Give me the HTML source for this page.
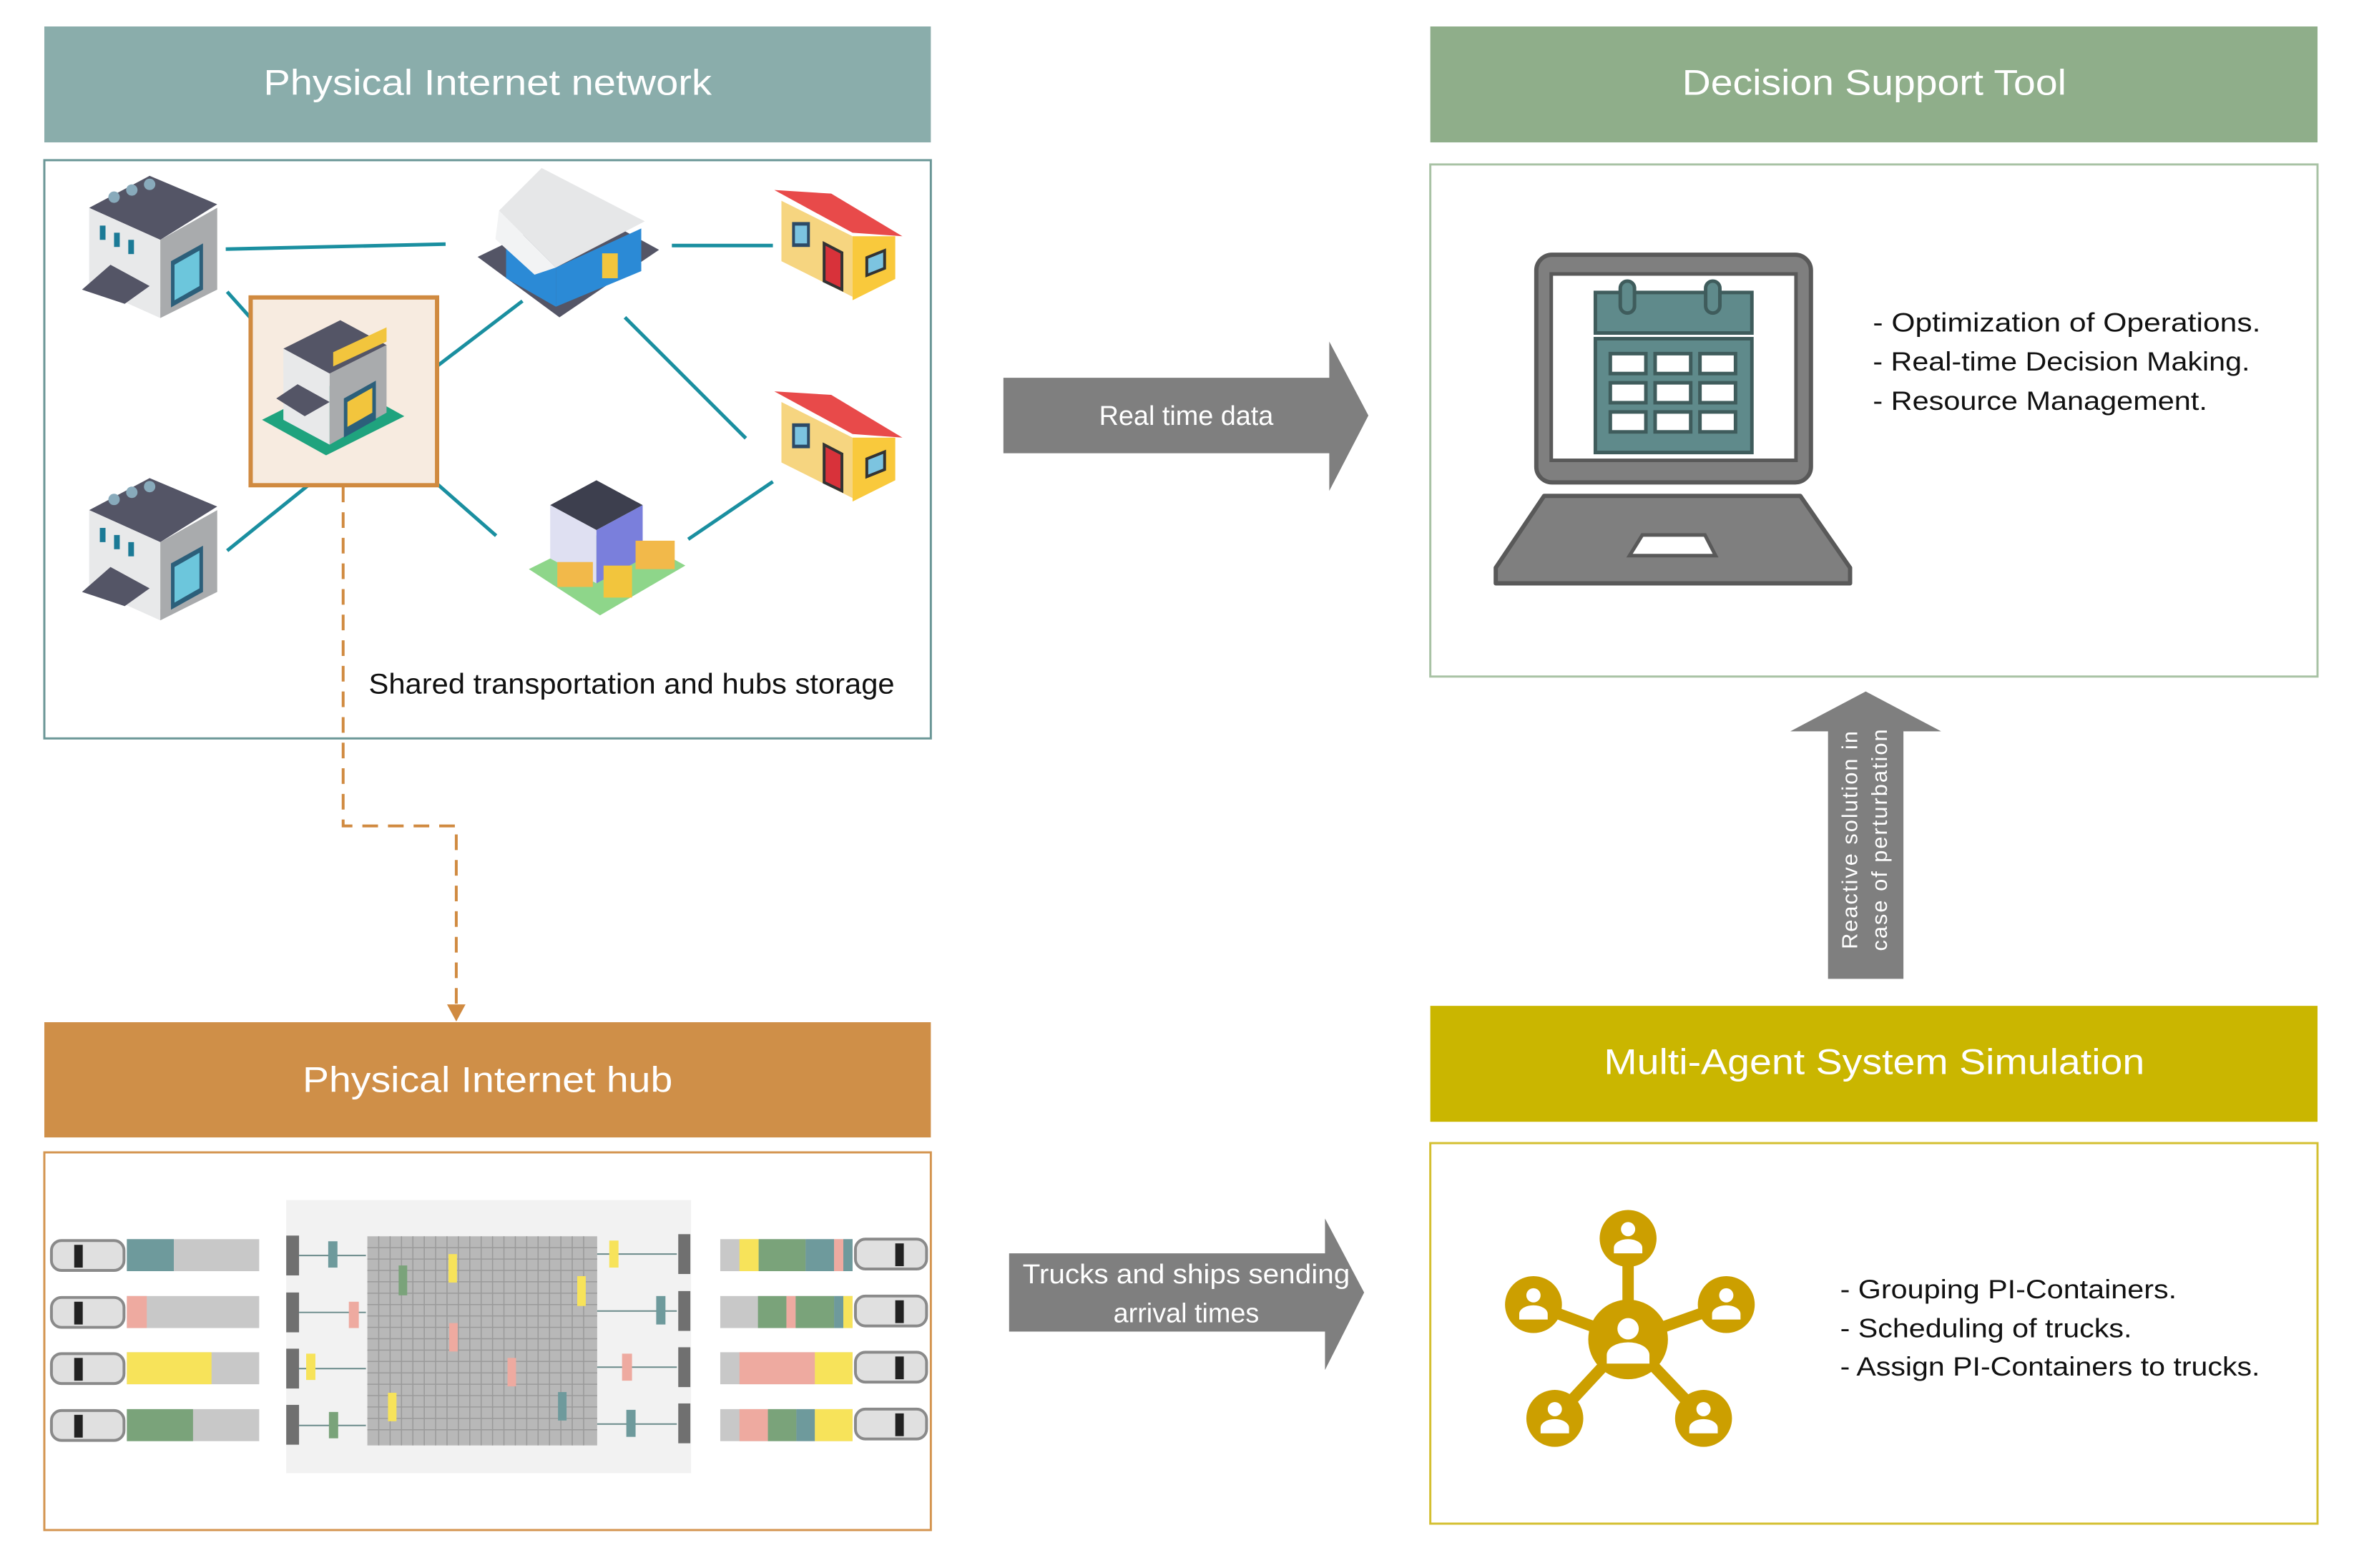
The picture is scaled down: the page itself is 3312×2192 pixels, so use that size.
<!DOCTYPE html>
<html><head><meta charset="utf-8"><style>
html,body{margin:0;padding:0;background:#fff}
svg{display:block}
text{font-family:"Liberation Sans",sans-serif}
</style></head><body>
<svg width="3312" height="2192" viewBox="0 0 3312 2192" xmlns="http://www.w3.org/2000/svg">
<defs>
  <g id="bld">
    <polygon points="10,55 95,10 190,50 110,100" fill="#545566"/>
    <polygon points="10,55 110,100 110,210 10,165" fill="#e8e9ea"/>
    <polygon points="110,100 190,55 190,170 110,210" fill="#a9abad"/>
    <rect x="25" y="80" width="8" height="20" fill="#1b7a96"/>
    <rect x="45" y="90" width="8" height="20" fill="#1b7a96"/>
    <rect x="65" y="100" width="8" height="20" fill="#1b7a96"/>
    <polygon points="125,130 170,105 170,170 125,195" fill="#2c5f7a"/>
    <polygon points="130,135 165,115 165,165 130,185" fill="#6cc6dc"/>
    <polygon points="0,170 40,135 95,165 60,190" fill="#545566"/>
    <circle cx="45" cy="40" r="8" fill="#8ab"/><circle cx="70" cy="30" r="8" fill="#8ab"/><circle cx="95" cy="22" r="8" fill="#8ab"/>
  </g>
  <g id="shop">
    <polygon points="0,0 80,5 180,65 110,60" fill="#e84a4a"/>
    <polygon points="10,15 110,65 110,150 10,100" fill="#f6d580"/>
    <polygon points="110,65 170,65 170,125 110,155" fill="#f9c93c"/>
    <rect x="25" y="45" width="25" height="35" fill="#2c4a66"/>
    <rect x="29" y="50" width="17" height="25" fill="#7cc4e0"/>
    <polygon points="70,75 95,88 95,140 70,128" fill="#d8323a" stroke="#333" stroke-width="4"/>
    <polygon points="130,95 155,85 155,110 130,120" fill="#7cc4e0" stroke="#333" stroke-width="4"/>
  </g>
</defs>
<g transform="matrix(0.9947 0 0 0.9943 0.3 0.2)">

<rect x="62" y="37" width="1246" height="163" fill="#8aadab"/>
<text x="685" y="133" font-size="50" fill="#fff" text-anchor="middle" textLength="630" lengthAdjust="spacingAndGlyphs">Physical Internet network</text>
<rect x="62" y="225" width="1246" height="813" fill="#fff" stroke="#6b9797" stroke-width="3"/>

<g stroke="#1a8fa0" stroke-width="5" fill="none">
  <line x1="317" y1="350" x2="626" y2="343"/>
  <line x1="944" y1="345" x2="1086" y2="345"/>
  <line x1="319" y1="410" x2="386" y2="485"/>
  <line x1="582" y1="539" x2="734" y2="423"/>
  <line x1="878" y1="446" x2="1048" y2="616"/>
  <line x1="557" y1="630" x2="697" y2="753"/>
  <line x1="319" y1="774" x2="469" y2="653"/>
  <line x1="967" y1="758" x2="1086" y2="677"/>
</g>
<rect x="352" y="418" width="262" height="264" fill="#f7ebe0" stroke="#d08a40" stroke-width="6"/>

<use href="#bld" x="115" y="237"/>
<use href="#bld" x="115" y="662"/>
<g transform="translate(368,440)">
  <polygon points="0,150 110,95 200,145 90,200" fill="#1fa37e"/>
  <polygon points="30,50 110,10 175,45 95,85" fill="#545566"/>
  <polygon points="30,50 95,85 95,185 30,150" fill="#e8e9ea"/>
  <polygon points="95,85 175,45 175,140 95,185" fill="#a9abad"/>
  <polygon points="100,55 175,20 175,40 100,75" fill="#f2c53d"/>
  <polygon points="115,120 160,95 160,150 115,175" fill="#2c5f7a"/>
  <polygon points="120,125 155,105 155,140 120,160" fill="#f2c53d"/>
  <polygon points="20,120 50,100 95,125 60,145" fill="#545566"/>
</g>
<g transform="translate(671,236)">
  <polygon points="0,125 145,55 255,115 115,210" fill="#545566"/>
  <polygon points="40,95 110,140 110,195 40,155" fill="#2b8ad6"/>
  <polygon points="110,140 230,85 230,145 110,195" fill="#2b8ad6"/>
  <polygon points="30,60 90,0 235,75 110,140" fill="#e6e7e8"/>
  <polygon points="30,60 110,140 80,150 25,100" fill="#f2f3f4"/>
  <rect x="175" y="120" width="22" height="35" fill="#f2c53d"/>
</g>
<use href="#shop" x="1088" y="267"/>
<use href="#shop" x="1088" y="550"/>
<g transform="translate(743,670)">
  <polygon points="0,130 120,70 220,125 100,195" fill="#8ed68a"/>
  <polygon points="30,40 95,5 160,40 95,75" fill="#3d3f4e"/>
  <polygon points="30,40 95,75 95,150 30,115" fill="#dfe0f2"/>
  <polygon points="95,75 160,40 160,115 95,150" fill="#7a7fdc"/>
  <rect x="40" y="120" width="50" height="35" fill="#f2b94a"/>
  <rect x="105" y="125" width="40" height="45" fill="#f2c53d"/>
  <rect x="150" y="90" width="55" height="40" fill="#f2b94a"/>
</g>

<text x="518" y="975" font-size="40" fill="#111" textLength="739" lengthAdjust="spacingAndGlyphs">Shared transportation and hubs storage</text>

<polyline points="482,684 482,1161 641,1161 641,1418" fill="none" stroke="#d08a40" stroke-width="4" stroke-dasharray="22,14"/>
<polygon points="628,1412 654,1412 641,1436" fill="#d08a40"/>

<rect x="62" y="1437" width="1246" height="162" fill="#cf8f48"/>
<text x="685" y="1535" font-size="50" fill="#fff" text-anchor="middle" textLength="520" lengthAdjust="spacingAndGlyphs">Physical Internet hub</text>
<rect x="62" y="1620" width="1246" height="531" fill="#fff" stroke="#d49550" stroke-width="3"/>

<rect x="402" y="1687" width="569" height="384" fill="#f2f2f2"/>
<g>
  <rect x="516" y="1738" width="323" height="294" fill="#b8b8b8"/>
  <g stroke="#9a9a9a" stroke-width="1.5">
  <path d="M532 1738V2032M548 1738V2032M564 1738V2032M580 1738V2032M596 1738V2032M612 1738V2032M628 1738V2032M644 1738V2032M660 1738V2032M676 1738V2032M692 1738V2032M708 1738V2032M724 1738V2032M740 1738V2032M756 1738V2032M772 1738V2032M788 1738V2032M804 1738V2032M820 1738V2032"/>
  <path d="M516 1754H839M516 1770H839M516 1786H839M516 1802H839M516 1818H839M516 1834H839M516 1850H839M516 1866H839M516 1882H839M516 1898H839M516 1914H839M516 1930H839M516 1946H839M516 1962H839M516 1978H839M516 1994H839M516 2010H839"/>
  </g>
  <rect x="630" y="1763" width="12" height="40" fill="#f7e35a"/>
  <rect x="560" y="1779" width="12" height="42" fill="#7aa37a"/>
  <rect x="811" y="1794" width="12" height="42" fill="#f7e35a"/>
  <rect x="631" y="1860" width="12" height="40" fill="#eeaaa0"/>
  <rect x="713" y="1909" width="12" height="40" fill="#eeaaa0"/>
  <rect x="545" y="1958" width="12" height="40" fill="#f7e35a"/>
  <rect x="784" y="1957" width="12" height="40" fill="#6e9a9c"/>
</g>
<g fill="#707070">
  <rect x="402" y="1737" width="18" height="56"/><rect x="402" y="1817" width="18" height="56"/>
  <rect x="402" y="1896" width="18" height="56"/><rect x="402" y="1975" width="18" height="56"/>
  <rect x="953" y="1735" width="17" height="56"/><rect x="953" y="1815" width="17" height="56"/>
  <rect x="953" y="1894" width="17" height="56"/><rect x="953" y="1973" width="17" height="56"/>
</g>
<g stroke="#6a8a8a" stroke-width="2">
  <line x1="420" y1="1765" x2="514" y2="1765"/><line x1="420" y1="1845" x2="514" y2="1845"/>
  <line x1="420" y1="1924" x2="514" y2="1924"/><line x1="420" y1="2004" x2="514" y2="2004"/>
  <line x1="839" y1="1763" x2="951" y2="1763"/><line x1="839" y1="1843" x2="951" y2="1843"/>
  <line x1="839" y1="1922" x2="951" y2="1922"/><line x1="839" y1="2002" x2="951" y2="2002"/>
</g>
<rect x="461" y="1745" width="13" height="37" fill="#6e9a9c"/>
<rect x="490" y="1830" width="14" height="37" fill="#eeaaa0"/>
<rect x="430" y="1903" width="13" height="37" fill="#f7e35a"/>
<rect x="462" y="1985" width="13" height="37" fill="#7aa37a"/>
<rect x="856" y="1744" width="13" height="38" fill="#f7e35a"/>
<rect x="922" y="1822" width="13" height="40" fill="#6e9a9c"/>
<rect x="874" y="1903" width="14" height="38" fill="#eeaaa0"/>
<rect x="880" y="1982" width="13" height="38" fill="#6e9a9c"/>

<g>
  <g transform="translate(72,1744)">
    <rect x="0" y="0" width="102" height="42" rx="14" fill="#e0e0e0" stroke="#8a8a8a" stroke-width="4"/><rect x="32" y="6" width="12" height="32" fill="#222"/>
    <rect x="106" y="-2" width="186" height="45" fill="#c8c8c8"/><rect x="106" y="-2" width="66" height="45" fill="#6e9a9c"/>
  </g>
  <g transform="translate(72,1824)">
    <rect x="0" y="0" width="102" height="42" rx="14" fill="#e0e0e0" stroke="#8a8a8a" stroke-width="4"/><rect x="32" y="6" width="12" height="32" fill="#222"/>
    <rect x="106" y="-2" width="186" height="45" fill="#c8c8c8"/><rect x="106" y="-2" width="28" height="45" fill="#eeaaa0"/>
  </g>
  <g transform="translate(72,1903)">
    <rect x="0" y="0" width="102" height="42" rx="14" fill="#e0e0e0" stroke="#8a8a8a" stroke-width="4"/><rect x="32" y="6" width="12" height="32" fill="#222"/>
    <rect x="106" y="-2" width="186" height="45" fill="#c8c8c8"/><rect x="106" y="-2" width="119" height="45" fill="#f7e35a"/>
  </g>
  <g transform="translate(72,1983)">
    <rect x="0" y="0" width="102" height="42" rx="14" fill="#e0e0e0" stroke="#8a8a8a" stroke-width="4"/><rect x="32" y="6" width="12" height="32" fill="#222"/>
    <rect x="106" y="-2" width="186" height="45" fill="#c8c8c8"/><rect x="106" y="-2" width="93" height="45" fill="#7aa37a"/>
  </g>
</g>
<g>
  <g transform="translate(1012,1744)">
    <rect x="0" y="-2" width="186" height="45" fill="#c8c8c8"/>
    <rect x="27" y="-2" width="27" height="45" fill="#f7e35a"/><rect x="54" y="-2" width="66" height="45" fill="#7aa37a"/><rect x="120" y="-2" width="40" height="45" fill="#6e9a9c"/><rect x="160" y="-2" width="13" height="45" fill="#eeaaa0"/><rect x="173" y="-2" width="13" height="45" fill="#6e9a9c"/>
    <rect x="190" y="-2" width="100" height="42" rx="14" fill="#e0e0e0" stroke="#8a8a8a" stroke-width="4"/><rect x="246" y="4" width="12" height="32" fill="#222"/>
  </g>
  <g transform="translate(1012,1824)">
    <rect x="0" y="-2" width="186" height="45" fill="#c8c8c8"/>
    <rect x="53" y="-2" width="40" height="45" fill="#7aa37a"/><rect x="93" y="-2" width="13" height="45" fill="#eeaaa0"/><rect x="106" y="-2" width="54" height="45" fill="#7aa37a"/><rect x="160" y="-2" width="13" height="45" fill="#6e9a9c"/><rect x="173" y="-2" width="13" height="45" fill="#f7e35a"/>
    <rect x="190" y="-2" width="100" height="42" rx="14" fill="#e0e0e0" stroke="#8a8a8a" stroke-width="4"/><rect x="246" y="4" width="12" height="32" fill="#222"/>
  </g>
  <g transform="translate(1012,1903)">
    <rect x="0" y="-2" width="186" height="45" fill="#c8c8c8"/>
    <rect x="27" y="-2" width="106" height="45" fill="#eeaaa0"/><rect x="133" y="-2" width="53" height="45" fill="#f7e35a"/>
    <rect x="190" y="-2" width="100" height="42" rx="14" fill="#e0e0e0" stroke="#8a8a8a" stroke-width="4"/><rect x="246" y="4" width="12" height="32" fill="#222"/>
  </g>
  <g transform="translate(1012,1983)">
    <rect x="0" y="-2" width="186" height="45" fill="#c8c8c8"/>
    <rect x="27" y="-2" width="40" height="45" fill="#eeaaa0"/><rect x="67" y="-2" width="40" height="45" fill="#7aa37a"/><rect x="107" y="-2" width="26" height="45" fill="#6e9a9c"/><rect x="133" y="-2" width="53" height="45" fill="#f7e35a"/>
    <rect x="190" y="-2" width="100" height="42" rx="14" fill="#e0e0e0" stroke="#8a8a8a" stroke-width="4"/><rect x="246" y="4" width="12" height="32" fill="#222"/>
  </g>
</g>

<polygon points="1410,531 1868,531 1868,480 1923,584 1868,690 1868,637 1410,637" fill="#7f7f7f"/>
<text x="1667" y="597" font-size="38" fill="#fff" text-anchor="middle">Real time data</text>

<polygon points="1418,1762 1862,1762 1862,1713 1917,1817 1862,1926 1862,1872 1418,1872" fill="#7f7f7f"/>
<text x="1667" y="1804" font-size="38" fill="#fff" text-anchor="middle" textLength="460" lengthAdjust="spacingAndGlyphs">Trucks and ships sending</text>
<text x="1667" y="1859" font-size="38" fill="#fff" text-anchor="middle">arrival times</text>

<rect x="2010" y="37" width="1247" height="163" fill="#8fae8a"/>
<text x="2634" y="133" font-size="50" fill="#fff" text-anchor="middle" textLength="540" lengthAdjust="spacingAndGlyphs">Decision Support Tool</text>
<rect x="2010" y="231" width="1247" height="720" fill="#fff" stroke="#a8c2a4" stroke-width="3"/>

<rect x="2159" y="358" width="386" height="320" rx="22" fill="#7f7f7f" stroke="#595959" stroke-width="6"/>
<rect x="2180" y="385" width="344" height="262" fill="#fff" stroke="#595959" stroke-width="5"/>
<polygon points="2170,697 2530,697 2600,798 2600,820 2102,820 2102,798" fill="#7f7f7f" stroke="#595959" stroke-width="6" stroke-linejoin="round"/>
<polygon points="2308,752 2396,752 2411,781 2290,781" fill="#fff" stroke="#595959" stroke-width="5"/>
<rect x="2242" y="411" width="220" height="57" fill="#5f8a8b" stroke="#3f5c5c" stroke-width="5"/>
<rect x="2242" y="476" width="220" height="160" fill="#5f8a8b" stroke="#3f5c5c" stroke-width="5"/>
<rect x="2277" y="395" width="20" height="45" rx="10" fill="#5f8a8b" stroke="#3f5c5c" stroke-width="5"/>
<rect x="2397" y="395" width="20" height="45" rx="10" fill="#5f8a8b" stroke="#3f5c5c" stroke-width="5"/>
<g fill="#fff" stroke="#3f5c5c" stroke-width="5">
  <rect x="2263" y="497" width="50" height="28"/><rect x="2326" y="497" width="50" height="28"/><rect x="2389" y="497" width="50" height="28"/>
  <rect x="2263" y="538" width="50" height="28"/><rect x="2326" y="538" width="50" height="28"/><rect x="2389" y="538" width="50" height="28"/>
  <rect x="2263" y="579" width="50" height="28"/><rect x="2326" y="579" width="50" height="28"/><rect x="2389" y="579" width="50" height="28"/>
</g>
<g font-size="37" fill="#111">
  <text x="2632" y="466" textLength="545" lengthAdjust="spacingAndGlyphs">- Optimization of Operations.</text>
  <text x="2632" y="521" textLength="530" lengthAdjust="spacingAndGlyphs">- Real-time Decision Making.</text>
  <text x="2632" y="576" textLength="470" lengthAdjust="spacingAndGlyphs">- Resource Management.</text>
</g>

<polygon points="2569,1376 2569,1028 2516,1028 2622,972 2728,1028 2675,1028 2675,1376" fill="#7f7f7f"/>
<g transform="translate(2610,1180) rotate(-90)" font-size="31" fill="#fff" text-anchor="middle">
  <text x="0" y="0" letter-spacing="2">Reactive solution in</text>
  <text x="0" y="42" letter-spacing="2">case of perturbation</text>
</g>

<rect x="2010" y="1414" width="1247" height="163" fill="#cab600"/>
<text x="2634" y="1510" font-size="50" fill="#fff" text-anchor="middle" textLength="760" lengthAdjust="spacingAndGlyphs">Multi-Agent System Simulation</text>
<rect x="2010" y="1607" width="1247" height="535" fill="#fff" stroke="#d4bf30" stroke-width="3"/>

<g stroke="#cc9f00" stroke-width="16">
  <line x1="2288" y1="1883" x2="2288" y2="1741"/>
  <line x1="2288" y1="1883" x2="2155" y2="1834"/>
  <line x1="2288" y1="1883" x2="2426" y2="1834"/>
  <line x1="2288" y1="1883" x2="2185" y2="1994"/>
  <line x1="2288" y1="1883" x2="2394" y2="1994"/>
</g>
<g fill="#cc9f00">
  <circle cx="2288" cy="1883" r="56"/>
  <circle cx="2288" cy="1741" r="40"/><circle cx="2155" cy="1834" r="40"/><circle cx="2426" cy="1834" r="40"/>
  <circle cx="2185" cy="1994" r="40"/><circle cx="2394" cy="1994" r="40"/>
</g>
<g fill="#fff">
  <circle cx="2288" cy="1868" r="15"/><path d="M2258 1917v-12a30 18 0 0 1 60 0v12z"/>
  <circle cx="2288" cy="1728" r="10"/><path d="M2268 1762v-8a20 12 0 0 1 40 0v8z"/>
  <circle cx="2155" cy="1821" r="10"/><path d="M2135 1855v-8a20 12 0 0 1 40 0v8z"/>
  <circle cx="2426" cy="1821" r="10"/><path d="M2406 1855v-8a20 12 0 0 1 40 0v8z"/>
  <circle cx="2185" cy="1981" r="10"/><path d="M2165 2015v-8a20 12 0 0 1 40 0v8z"/>
  <circle cx="2394" cy="1981" r="10"/><path d="M2374 2015v-8a20 12 0 0 1 40 0v8z"/>
</g>
<g font-size="37" fill="#111">
  <text x="2586" y="1825" textLength="473" lengthAdjust="spacingAndGlyphs">- Grouping PI-Containers.</text>
  <text x="2586" y="1880" textLength="410" lengthAdjust="spacingAndGlyphs">- Scheduling of trucks.</text>
  <text x="2586" y="1934" textLength="590" lengthAdjust="spacingAndGlyphs">- Assign PI-Containers to trucks.</text>
</g>
</g>
</svg>
</body></html>
